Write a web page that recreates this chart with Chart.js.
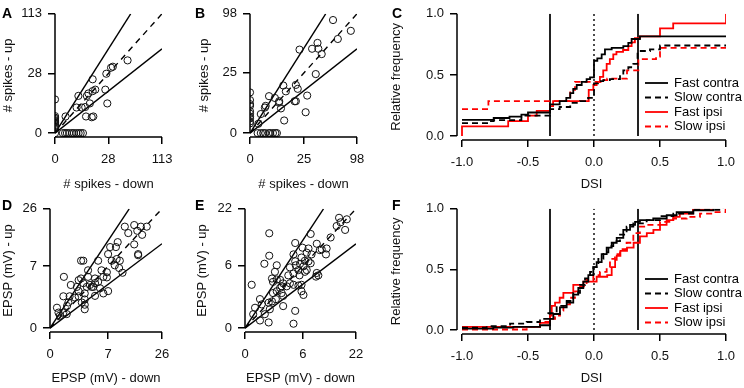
<!DOCTYPE html>
<html>
<head>
<meta charset="utf-8">
<script src="https://cdn.jsdelivr.net/npm/chart.js@4.4.1/dist/chart.umd.min.js"></script>
<style>
  body { margin: 0; background: #fff; }
  #fig { position: relative; width: 744px; height: 388px; overflow: hidden; }
  canvas { position: absolute; }
  .tag { position: absolute; font: bold 14px "Liberation Sans", Arial, sans-serif; color: #000; line-height: 14px; }
</style>
</head>
<body>
<div id="fig">
  <canvas id="cA" width="195" height="194" style="left:0px;top:0px"></canvas>
  <canvas id="cB" width="194" height="194" style="left:196px;top:0px"></canvas>
  <canvas id="cC" width="356" height="194" style="left:388px;top:0px"></canvas>
  <canvas id="cD" width="195" height="193" style="left:0px;top:195px"></canvas>
  <canvas id="cE" width="196" height="193" style="left:194px;top:195px"></canvas>
  <canvas id="cF" width="356" height="193" style="left:388px;top:195px"></canvas>
  <div class="tag" style="left:2px;top:6px">A</div>
  <div class="tag" style="left:195px;top:6px">B</div>
  <div class="tag" style="left:392px;top:6px">C</div>
  <div class="tag" style="left:2px;top:198px">D</div>
  <div class="tag" style="left:195px;top:198px">E</div>
  <div class="tag" style="left:392px;top:198px">F</div>
</div>
<script>
// ---- data: spikes (A, B) ----
const aTicks = [0, 28, 113];
const aDown = [0, 52, 31, 33, 26, 14, 16, 14, 25, 10, 11, 5.4, 12, 9, 7, 4.6, 27, 9.5, 14.5, 13.3, 1.1,
  0, 0, 0, 0, 0, 0, 0, 0, 0, 0.6, 1, 1.4, 2, 2.8, 3.5, 4.5, 5.5, 6.5, 7.7, 0];
const aUp = [9, 42, 34, 35, 28, 23, 15, 14, 15, 11, 12.5, 11, 7, 5.4, 5.2, 5.2, 7, 2.2, 2.2, 2, 2.2,
  0.3, 0.5, 0.7, 0.9, 1.1, 1.3, 1.6, 1.9, 2.3, 0, 0, 0, 0, 0, 0, 0, 0, 0, 0, 0];

const bTicks = [0, 25, 98];
const bDown = [59, 87, 66, 39, 33, 40, 44, 21, 37, 18, 19.5, 28, 26.5, 9.5, 11, 17, 18, 7.3, 5.3, 3.1, 2.1, 1.9, 8.2, 7.2, 10, 1, 0.6,
  0, 0, 0, 0, 0, 0, 0, 0, 0, 0, 0.5, 1, 1.5, 2, 3, 3.5, 4.5, 5.5, 6.2];
const bUp = [88, 72, 61, 56, 49, 49, 43, 48, 24, 16, 13.5, 9.7, 3, 15.6, 12, 7, 7, 7, 8.5, 9.4, 5.1, 4.5, 4.2, 6.4, 1.1, 2.5, 0.6,
  0.65, 0.93, 1.5, 1.9, 2.6, 3.3, 5.1, 5.8, 7.5, 11.4, 0, 0, 0, 0, 0, 0, 0, 0, 0];

// ---- data: EPSP (D, E) ----
const dTicks = [0, 7, 26];
const dDown = [11.6, 14.7, 17.1, 19.4, 12.7, 15.8, 17.6, 9.5, 14.7, 16.1, 16.1, 7.5, 9, 7, 9.2, 7.9, 10.1, 8.7, 9.9, 10.9,
  2, 2.3, 4.8, 3, 5.5, 6.7, 5.9, 6.7, 4.8, 4.2, 3.6, 3.3, 2.8, 2.3, 2, 1.7, 3, 4.2, 0.4, 0.9, 1.5, 1.7, 2.5, 3.9, 4.2,
  5.9, 7, 5.2, 0.37, 0.8, 1.3, 1.7, 2.5, 2.1, 2.5, 2.5, 0.6, 0.7, 0.1, 0.37, 0.58, 0.2, 0.15];
const dUp = [18.8, 19.4, 18.8, 18.8, 16.5, 17.3, 15.9, 13.5, 12.8, 10, 9.7, 12, 12, 10, 8.7, 8.3, 8.3, 7.2, 6.6, 5.6,
  8.3, 8.3, 8.3, 6.1, 6.1, 5.7, 4.8, 4.7, 3.9, 3.7, 3.1, 3.4, 3.1, 3.7, 4.5, 4.2, 4.8, 4.5, 4.8, 3.4, 3.1, 2.5, 2.2, 3.1, 1.9,
  2.2, 2.5, 2.9, 1.85, 1.85, 1.7, 1.85, 1.5, 1.2, 1.0, 0.65, 0.9, 1.2, 0.76, 0.44, 0.36, 0.28, 0.44];

const eTicks = [0, 6, 22];
const eDown = [15.8, 18.5, 17.9, 15, 16.3, 13.1, 11.9, 10.5, 9.2, 10, 11.7, 7.7, 5.9, 7.2, 6.8, 7.9, 5.7, 6.4, 7.2, 7.7,
  5.4, 6.1, 6.8, 4.6, 5.1, 4.2, 4.5, 3.6, 4.2, 5.3, 6.4, 1.05, 1.05, 0.67, 4.5, 1.8, 1.6, 1.3, 1.4, 1.8, 2.2, 2.6, 3.35,
  3.6, 3.1, 4.2, 5.1, 5.7, 5.7, 6.1, 2.2, 2.4, 2.6, 1.8, 1.4, 1.3, 1.7, 1, 0.4, 0.5, 0.18, 0.12, 0.7, 1.1, 0.4, 1, 4.2,
  4.5, 0.08, 2.6, 2.4, 9.2, 9.6, 9];
const eUp = [18.8, 18.3, 14.9, 16.1, 17.3, 12.7, 9.8, 9.6, 11, 9.4, 8.4, 13.7, 10, 9.8, 8.8, 8.4, 7.7, 7, 6.9, 6.5,
  6.4, 5.9, 5.2, 6.1, 5.2, 8.4, 6.9, 5.7, 4.6, 4.3, 4.9, 13.9, 8.1, 6.4, 11.2, 6.1, 4.9, 3.8, 3.3, 3.65, 3.6, 3.1, 4.3,
  3.1, 2.7, 2.9, 2.8, 2.9, 2.1, 1.7, 2.5, 1.9, 1.6, 2.1, 1.9, 1.1, 1.3, 1, 1.3, 0.87, 0.64, 0.3, 0.3, 0.55, 0.09, 0.05, 0.03,
  0.46, 2.9, 0.75, 2.7, 4.7, 4.3, 4.1];

// reference lines up = k * down (DSI = +1/3, 0, -1/3)
const refSlopes = [2, 1, 0.5];

// ---- data: cumulative DSI (C, F) ----
const dsiTicks = [-1, -0.5, 0, 0.5, 1];
const freqTicks = [0, 0.5, 1];
const dsiLines = [-1 / 3, 1 / 3];
const seriesNames = ["Fast contra", "Slow contra", "Fast ipsi", "Slow ipsi"];

const cFastContraX = [-1, -0.76, -0.64, -0.55, -0.5, -0.333, -0.26, -0.21, -0.18, -0.157, -0.131, -0.093, -0.056, -0.03, 0, 0.025, 0.058, 0.083, 0.134, 0.222, 0.26, 0.285, 0.348, 1];
const cFastContraY = [0.132, 0.148, 0.159, 0.175, 0.193, 0.259, 0.286, 0.312, 0.352, 0.386, 0.418, 0.444, 0.466, 0.481, 0.616, 0.635, 0.669, 0.709, 0.722, 0.735, 0.762, 0.794, 0.815, 0.815];
const cSlowContraX = [-1, -0.81, -0.76, -0.55, -0.333, -0.26, -0.18, -0.106, -0.045, 0, 0.03, 0.07, 0.12, 0.197, 0.222, 0.26, 0.298, 0.33, 0.424, 0.5, 1];
const cSlowContraY = [0.106, 0.122, 0.13, 0.167, 0.22, 0.238, 0.272, 0.286, 0.312, 0.431, 0.45, 0.458, 0.466, 0.5, 0.537, 0.563, 0.59, 0.696, 0.709, 0.741, 0.741];
const cFastIpsiX = [-1, -1, -0.65, -0.5, -0.434, -0.333, -0.31, -0.04, -0.005, 0.02, 0.045, 0.07, 0.096, 0.12, 0.146, 0.17, 0.22, 0.26, 0.285, 0.31, 0.348, 0.5, 0.6, 1];
const cFastIpsiY = [0, 0.079, 0.122, 0.167, 0.206, 0.246, 0.286, 0.378, 0.418, 0.444, 0.484, 0.537, 0.59, 0.63, 0.669, 0.688, 0.704, 0.735, 0.767, 0.8, 0.815, 0.881, 0.921, 1.0];
const cSlowIpsiX = [-1, -0.8, -0.18, -0.144, 0.05, 0.1, 0.25, 0.336, 0.47, 0.5, 1];
const cSlowIpsiY = [0.22, 0.286, 0.378, 0.444, 0.458, 0.47, 0.537, 0.63, 0.65, 0.722, 0.76];

const fFastContraX = [-1, -0.763, -0.611, -0.409, -0.333, -0.308, -0.258, -0.207, -0.157, -0.119, -0.081, -0.043, -0.005, 0.02, 0.058, 0.096, 0.134, 0.172, 0.222, 0.273, 0.311, 0.348, 0.449, 0.551, 0.626, 0.753, 0.904];
const fFastContraY = [0.013, 0.021, 0.027, 0.04, 0.093, 0.133, 0.187, 0.227, 0.293, 0.347, 0.4, 0.453, 0.52, 0.56, 0.627, 0.68, 0.72, 0.76, 0.827, 0.867, 0.893, 0.907, 0.92, 0.947, 0.973, 0.987, 1.0];
const fSlowContraX = [-1, -0.813, -0.636, -0.51, -0.409, -0.346, -0.283, -0.207, -0.157, -0.106, -0.068, -0.03, -0.005, 0.033, 0.071, 0.109, 0.146, 0.197, 0.247, 0.298, 0.399, 0.5, 0.601, 0.753, 0.98];
const fSlowContraY = [0.021, 0.032, 0.053, 0.067, 0.093, 0.139, 0.2, 0.24, 0.307, 0.373, 0.427, 0.48, 0.52, 0.587, 0.64, 0.693, 0.733, 0.787, 0.853, 0.88, 0.907, 0.939, 0.96, 0.992, 1.0];
const fFastIpsiX = [-1, -0.41, -0.333, -0.32, -0.295, -0.26, -0.232, -0.157, -0.08, 0.02, 0.1, 0.134, 0.16, 0.172, 0.2, 0.25, 0.3, 0.348, 0.4, 0.45, 0.5, 0.55, 0.6, 0.65, 0.75, 0.9];
const fFastIpsiY = [0.027, 0.059, 0.12, 0.2, 0.227, 0.267, 0.307, 0.373, 0.4, 0.44, 0.453, 0.52, 0.58, 0.613, 0.653, 0.68, 0.72, 0.773, 0.8, 0.827, 0.867, 0.907, 0.933, 0.96, 0.992, 1.0];
const fSlowIpsiX = [-1, -0.51, -0.409, -0.333, -0.295, -0.283, -0.258, -0.232, -0.182, -0.144, -0.106, -0.056, -0.005, 0.045, 0.096, 0.121, 0.159, 0.197, 0.247, 0.298, 0.348, 0.399, 0.5, 0.601, 0.702, 0.803, 0.904, 0.997];
const fSlowIpsiY = [0.005, 0.027, 0.067, 0.093, 0.107, 0.12, 0.16, 0.213, 0.267, 0.32, 0.36, 0.413, 0.453, 0.48, 0.52, 0.587, 0.627, 0.667, 0.72, 0.8, 0.853, 0.867, 0.893, 0.92, 0.933, 0.96, 0.973, 1.0];

// ---- shared look ----
const FONT = '"Liberation Sans", Arial, sans-serif';
Chart.defaults.font.family = FONT;
Chart.defaults.font.size = 13;
Chart.defaults.color = "#111";
Chart.defaults.animation = false;

// R-like detached axis lines, from first to last tick
const rAxes = {
  id: "rAxes",
  afterDraw(chart) {
    const { ctx, chartArea, scales } = chart;
    const x = scales.x, y = scales.y;
    ctx.save();
    ctx.strokeStyle = "#000";
    ctx.lineWidth = 1.5;
    ctx.beginPath();
    ctx.moveTo(x.getPixelForValue(x.ticks[0].value), chartArea.bottom);
    ctx.lineTo(x.getPixelForValue(x.ticks[x.ticks.length - 1].value), chartArea.bottom);
    ctx.moveTo(chartArea.left, y.getPixelForValue(y.ticks[0].value));
    ctx.lineTo(chartArea.left, y.getPixelForValue(y.ticks[y.ticks.length - 1].value));
    ctx.stroke();
    ctx.restore();
  },
};

// legend in the lower right of the plot
const cornerLegend = {
  id: "cornerLegend",
  afterDraw(chart, args, opts) {
    if (!opts.show) return;
    const { ctx, chartArea } = chart;
    const sets = chart.data.datasets.filter((d) => d.label);
    ctx.save();
    ctx.font = "13px " + FONT;
    ctx.textBaseline = "middle";
    sets.forEach((d, i) => {
      const y = chartArea.bottom + opts.top + i * opts.step;
      const x0 = chartArea.right + opts.left;
      ctx.strokeStyle = d.borderColor;
      ctx.lineWidth = d.borderWidth;
      ctx.setLineDash(d.borderDash || []);
      ctx.beginPath();
      ctx.moveTo(x0, y);
      ctx.lineTo(x0 + 23, y);
      ctx.stroke();
      ctx.setLineDash([]);
      ctx.fillStyle = "#000";
      ctx.fillText(d.label, x0 + 29, y);
    });
    ctx.restore();
  },
};

function axisOpts(box, area, horiz, range, tickVals, labels, title) {
  return {
    type: "linear",
    min: range[0],
    max: range[1],
    afterBuildTicks: (s) => {
      s.ticks = tickVals.map((v) => ({ value: v }));
    },
    afterFit: (s) => {
      if (horiz) s.height = box.top + box.height - area.b;
      else s.width = area.l - box.left;
    },
    border: { display: false },
    grid: { drawOnChartArea: false, drawTicks: true, tickLength: 7, color: "#000", lineWidth: 1.5 },
    ticks: {
      autoSkip: false,
      maxRotation: 0,
      padding: horiz ? 8 : 6,
      color: "#111",
      callback: (v, i) => labels[i],
    },
    title: { display: true, text: title, color: "#111", padding: horiz ? { top: 0, bottom: 2 } : { top: 1, bottom: 0 } },
  };
}

function boxOf(id) {
  const c = document.getElementById(id);
  return { left: parseFloat(c.style.left), top: parseFloat(c.style.top), width: c.width, height: c.height };
}

function baseOptions(box, area, scales, legend) {
  return {
    responsive: false,
    devicePixelRatio: 1,
    layout: { padding: { left: 0, top: area.t - box.top, right: box.left + box.width - area.r, bottom: 0 } },
    plugins: { legend: { display: false }, tooltip: { enabled: false }, cornerLegend: legend },
    scales: scales,
  };
}

// scatter of up vs down on square-root axes
function spikePanel(id, area, down, up, ticks, xTitle, yTitle) {
  const box = boxOf(id);
  const max = ticks[ticks.length - 1];
  const sMax = Math.sqrt(max);
  const yMin = (-sMax * 4) / (area.b - area.t - 4);
  const sqTicks = ticks.map(Math.sqrt);
  const labels = ticks.map(String);
  const pts = down.map((d, i) => ({ x: Math.sqrt(d), y: Math.sqrt(up[i]) }));
  const refLine = (k) => {
    const xe = Math.min(max, max / k);
    return [{ x: 0, y: 0 }, { x: Math.sqrt(xe), y: Math.sqrt(k * xe) }];
  };
  const datasets = [
    {
      data: pts,
      showLine: false,
      pointRadius: 3.6,
      pointBorderWidth: 1,
      pointBorderColor: "#111",
      pointBackgroundColor: "rgba(0,0,0,0)",
    },
  ].concat(
    refSlopes.map((k) => ({
      data: refLine(k),
      showLine: true,
      pointRadius: 0,
      borderColor: "#000",
      borderWidth: 1.4,
      borderDash: k === 1 ? [6, 5] : [],
    }))
  );
  return new Chart(document.getElementById(id), {
    type: "scatter",
    data: { datasets },
    options: baseOptions(box, area, {
      x: axisOpts(box, area, true, [0, sMax], sqTicks, labels, xTitle),
      y: axisOpts(box, area, false, [yMin, sMax], sqTicks, labels, yTitle),
    }, { show: false }),
    plugins: [rAxes],
  });
}

// cumulative distributions of DSI
function cdfPanel(id, area, xs, ys, legendTop) {
  const box = boxOf(id);
  const pxPerUnit = (area.r - area.l - 5) / 2;
  const xMin = -1 - 5 / pxPerUnit;
  const yMin = -4 / (area.b - area.t - 4);
  const colors = ["#000", "#000", "#f00", "#f00"];
  const dashes = [[], [6, 4], [], [6, 4]];
  const datasets = seriesNames.map((name, s) => ({
    label: name,
    data: xs[s].map((x, i) => ({ x: x, y: ys[s][i] })),
    showLine: true,
    stepped: "before",
    pointRadius: 0,
    borderColor: colors[s],
    borderWidth: 1.8,
    borderDash: dashes[s],
  }));
  dsiLines.forEach((v) => {
    datasets.push({ data: [{ x: v, y: 0 }, { x: v, y: 1 }], showLine: true, pointRadius: 0, borderColor: "#222", borderWidth: 2 });
  });
  datasets.push({ data: [{ x: 0, y: 0 }, { x: 0, y: 1 }], showLine: true, pointRadius: 0, borderColor: "#000", borderWidth: 1.4, borderDash: [2, 3] });
  return new Chart(document.getElementById(id), {
    type: "scatter",
    data: { datasets },
    options: baseOptions(box, area, {
      x: axisOpts(box, area, true, [xMin, 1], dsiTicks, dsiTicks.map((v) => v.toFixed(1)), "DSI"),
      y: axisOpts(box, area, false, [yMin, 1], freqTicks, freqTicks.map((v) => v.toFixed(1)), "Relative frequency"),
    }, { show: true, top: legendTop, step: 14.5, left: -81 }),
    plugins: [rAxes, cornerLegend],
  });
}

spikePanel("cA", { l: 55, t: 10, r: 162, b: 137 }, aDown, aUp, aTicks, "# spikes - down", "# spikes - up");
spikePanel("cB", { l: 250, t: 10, r: 357, b: 137 }, bDown, bUp, bTicks, "# spikes - down", "# spikes - up");
spikePanel("cD", { l: 50, t: 205, r: 162, b: 332 }, dDown, dUp, dTicks, "EPSP (mV) - down", "EPSP (mV) - up");
spikePanel("cE", { l: 245, t: 205, r: 356, b: 332 }, eDown, eUp, eTicks, "EPSP (mV) - down", "EPSP (mV) - up");
cdfPanel("cC", { l: 457, t: 10, r: 726, b: 140 },
  [cFastContraX, cSlowContraX, cFastIpsiX, cSlowIpsiX],
  [cFastContraY, cSlowContraY, cFastIpsiY, cSlowIpsiY], -57);
cdfPanel("cF", { l: 457, t: 205, r: 726, b: 334 },
  [fFastContraX, fSlowContraX, fFastIpsiX, fSlowIpsiX],
  [fFastContraY, fSlowContraY, fFastIpsiY, fSlowIpsiY], -55);
</script>
</body>
</html>
